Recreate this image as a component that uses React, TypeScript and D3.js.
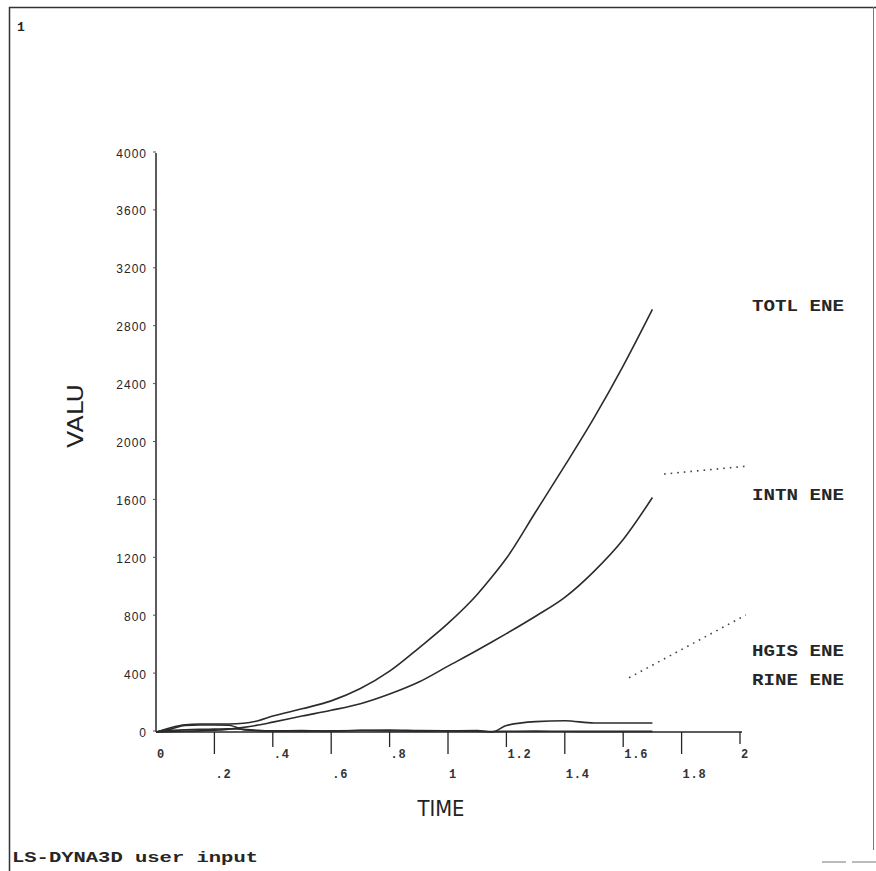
import React, { useEffect, useRef } from 'react';
import * as d3 from 'd3';

// time history samples (s) and energies
const timeSamples = [0, 0.05, 0.1, 0.15, 0.2, 0.25, 0.3, 0.35, 0.4, 0.5, 0.6, 0.7, 0.8, 0.9, 1.0, 1.1, 1.15, 1.2, 1.3, 1.4, 1.5, 1.6, 1.7];
const totlEne = [0, 30, 50, 55, 55, 55, 60, 78, 110, 160, 215, 300, 420, 580, 750, 950, 1070, 1200, 1520, 1840, 2170, 2530, 2920];
const intnEne = [0, 2, 5, 8, 12, 20, 32, 48, 68, 110, 150, 195, 262, 345, 455, 565, 622, 680, 800, 930, 1110, 1330, 1620];
const hglsEne = [0, 10, 15, 18, 20, 22, 18, 12, 8, 10, 5, 12, 14, 10, 8, 5, 3, 5, 6, 5, 4, 4, 4];
const kineEne = [0, 20, 45, 48, 48, 47, 15, 8, 5, 5, 8, 10, 8, 6, 8, 10, 0, 45, 72, 78, 62, 62, 62];

// dotted marker lines beside the labels, in data units
const intnMarkTime = [1.74, 2.03];
const intnMarkValue = [1782, 1838];
const hglsMarkTime = [1.62, 2.02];
const hglsMarkValue = [375, 808];

const timeTicks = [0, 0.2, 0.4, 0.6, 0.8, 1, 1.2, 1.4, 1.6, 1.8, 2];
const timeTickLabels = ['0', '.2', '.4', '.6', '.8', '1', '1.2', '1.4', '1.6', '1.8', '2'];
const valueTicks = [0, 400, 800, 1200, 1600, 2000, 2400, 2800, 3200, 3600, 4000];

const legendNames = ['TOTL ENE', 'INTN ENE', 'HGIS ENE', 'RINE ENE'];
const legendY = [305, 494, 650, 679];

const W = 876, H = 871;
const ink = '#262626';

const drawChart = (el: SVGSVGElement) => {
  const svg = d3.select(el);
  svg.selectAll('*').remove();

  const x = d3.scaleLinear().domain([0, 2]).range([156, 740]);
  const y = d3.scaleLinear().domain([0, 4000]).range([732, 153]);

  // page frame
  svg.append('path')
    .attr('d', `M9.5,${H} V7.5 H${W}`)
    .attr('fill', 'none').attr('stroke', '#333').attr('stroke-width', 1.5);
  svg.append('line')
    .attr('x1', 873.5).attr('x2', 873.5).attr('y1', 7).attr('y2', 850)
    .attr('stroke', '#777').attr('stroke-width', 1);
  svg.append('rect').attr('x', 822).attr('y', 861).attr('width', 24).attr('height', 2).attr('fill', '#bbb');
  svg.append('rect').attr('x', 852).attr('y', 861).attr('width', 24).attr('height', 2).attr('fill', '#bbb');

  svg.append('text')
    .attr('x', 17).attr('y', 31)
    .attr('font-family', 'Liberation Mono').attr('font-weight', 'bold').attr('font-size', 13)
    .attr('fill', ink).text('1');

  svg.append('text')
    .attr('x', 12).attr('y', 862)
    .attr('font-family', 'Liberation Mono').attr('font-weight', 'bold').attr('font-size', 15)
    .attr('textLength', 246).attr('lengthAdjust', 'spacingAndGlyphs')
    .attr('fill', ink).text('LS-DYNA3D user input');

  // axes
  svg.append('line')
    .attr('x1', x(0)).attr('x2', x(0)).attr('y1', y(4000)).attr('y2', y(0))
    .attr('stroke', ink).attr('stroke-width', 1.5);
  svg.append('line')
    .attr('x1', x(0)).attr('x2', x(2) + 2).attr('y1', y(0)).attr('y2', y(0))
    .attr('stroke', ink).attr('stroke-width', 1.5);

  // y ticks + labels
  const yt = svg.append('g');
  yt.selectAll('line').data(valueTicks).enter().append('line')
    .attr('x1', x(0) - 3).attr('x2', x(0))
    .attr('y1', d => y(d) - 1).attr('y2', d => y(d) - 1)
    .attr('stroke', '#555').attr('stroke-width', 1);
  yt.selectAll('text').data(valueTicks).enter().append('text')
    .attr('x', x(0) - 9).attr('y', d => y(d) + 4.5)
    .attr('text-anchor', 'end')
    .attr('font-family', 'Liberation Sans').attr('font-size', 12)
    .attr('letter-spacing', 1)
    .attr('fill', ink)
    .text(d => String(d));

  // x ticks alternate long/short, labels in two rows
  const xt = svg.append('g');
  xt.selectAll('line').data(timeTicks.slice(1)).enter().append('line')
    .attr('x1', d => x(d)).attr('x2', d => x(d))
    .attr('y1', y(0))
    .attr('y2', (d, i) => (i === 9 ? y(0) + 12 : i % 2 === 0 ? y(0) + 22 : y(0) + 15))
    .attr('stroke', ink).attr('stroke-width', 1.3);
  xt.selectAll('text').data(timeTicks).enter().append('text')
    .attr('x', d => x(d) + 1)
    .attr('y', (d, i) => (i % 2 === 0 ? 758 : 778))
    .attr('font-family', 'Liberation Mono').attr('font-weight', 'bold').attr('font-size', 12)
    .attr('letter-spacing', 0.8)
    .attr('fill', '#333')
    .text((d, i) => timeTickLabels[i]);

  // axis titles
  svg.append('text')
    .attr('x', 441).attr('y', 816)
    .attr('text-anchor', 'middle')
    .attr('font-family', 'DejaVu Sans').attr('font-size', 21)
    .attr('textLength', 47).attr('lengthAdjust', 'spacingAndGlyphs')
    .attr('fill', '#222').text('TIME');
  svg.append('text')
    .attr('transform', 'translate(83,416) rotate(-90)')
    .attr('text-anchor', 'middle')
    .attr('font-family', 'DejaVu Sans').attr('font-size', 21)
    .attr('textLength', 64).attr('lengthAdjust', 'spacingAndGlyphs')
    .attr('fill', '#222').text('VALU');

  // energy curves
  const line = d3.line<number>()
    .x((d, i) => x(timeSamples[i]))
    .y(d => y(d))
    .curve(d3.curveMonotoneX);
  [totlEne, intnEne, hglsEne, kineEne].forEach(series => {
    svg.append('path')
      .attr('d', line(series))
      .attr('fill', 'none')
      .attr('stroke', '#2b2b2b')
      .attr('stroke-width', 1.6);
  });

  // dotted markers
  [[intnMarkTime, intnMarkValue], [hglsMarkTime, hglsMarkValue]].forEach(([ts, vs]) => {
    svg.append('line')
      .attr('x1', x(ts[0])).attr('y1', y(vs[0]))
      .attr('x2', x(ts[1])).attr('y2', y(vs[1]))
      .attr('stroke', '#444').attr('stroke-width', 1.6)
      .attr('stroke-dasharray', '1.6 5');
  });

  // labels
  svg.selectAll('text.legend').data(legendNames).enter().append('text')
    .attr('class', 'legend')
    .attr('x', 752).attr('y', (d, i) => legendY[i] + 6)
    .attr('font-family', 'Liberation Mono').attr('font-weight', 'bold').attr('font-size', 16)
    .attr('textLength', 92).attr('lengthAdjust', 'spacingAndGlyphs')
    .attr('fill', ink)
    .text(d => d);
};

const App = () => {
  const ref = useRef<SVGSVGElement>(null);
  useEffect(() => {
    if (ref.current) drawChart(ref.current);
  }, []);
  return (
    <svg
      ref={ref}
      width={W}
      height={H}
      style={{ position: 'absolute', left: 0, top: 0, background: '#fff' }}
    />
  );
};

export default App;
